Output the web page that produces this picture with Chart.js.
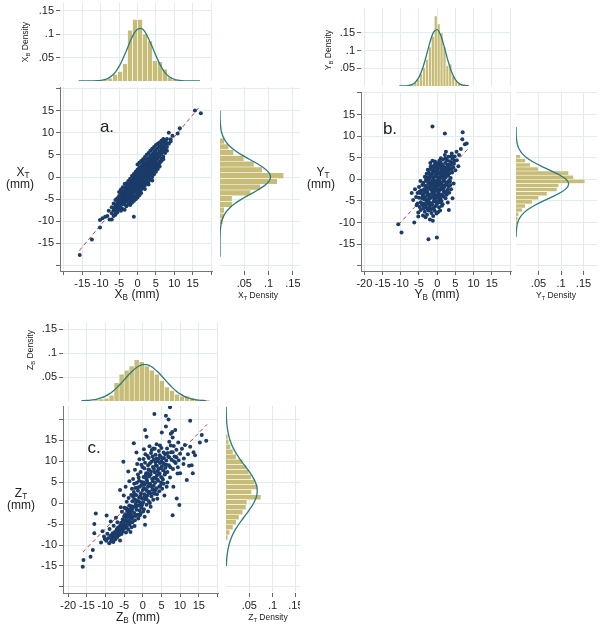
<!DOCTYPE html>
<html>
<head>
<meta charset="utf-8">
<script src="https://cdn.jsdelivr.net/npm/chart.js@4.4.1/dist/chart.umd.min.js"></script>
<style>
  html, body { margin: 0; padding: 0; background: #fff; }
  #stage { position: relative; width: 600px; height: 626px; overflow: hidden; font-family: 'Liberation Sans', Arial, sans-serif; color: #222; }
  #stage canvas { position: absolute; }
  .lbl { position: absolute; white-space: nowrap; transform: translate(-50%, -50%); line-height: 1; }
  .lbl .s { font-size: 0.68em; position: relative; top: 0.3em; }
  .lbl.rot { transform: translate(-50%, -50%) rotate(-90deg); }
</style>
</head>
<body>
<div id="stage"></div>
<script>
// ---- values ----
const mmTicks = [-20, -15, -10, -5, 0, 5, 10, 15, 20];
const densityTicks = [0.05, 0.1, 0.15];

// panel a: X_B (x) against X_T (y), rows of [x, [y, ...]]
const aRows = [
  [-7, [-8.2, -6.8, -9.6]],
  [-6.5, [-7.5, -6.0, -8.8, -7.0]],
  [-6, [-6.3, -7.8, -5.2, -6.9, -8.5]],
  [-5.5, [-5.9, -7.2, -4.8, -6.6, -8.0, -5.3]],
  [-5, [-6.8, -5.1, -4.3, -7.4, -5.8, -3.4, -6.2]],
  [-4.5, [-5.6, -4.4, -6.9, -3.6, -5.0, -7.6, -6.1, -2.8]],
  [-4, [-4.8, -3.2, -6.1, -5.5, -4.1, -2.3, -7.2, -5.0, -3.7]],
  [-3.5, [-5.0, -3.9, -2.5, -6.2, -4.5, -3.2, -7.4, -1.6, -4.0, -5.6]],
  [-3, [-3.6, -4.8, -2.2, -5.5, -3.0, -4.2, -1.4, -6.6, -3.9, -5.0, -2.7]],
  [-2.5, [-3.1, -4.4, -1.8, -5.0, -2.6, -3.7, -0.9, -6.1, -3.4, -2.1, -4.6]],
  [-2, [-2.7, -3.9, -1.3, -4.6, -2.2, -3.3, -0.4, -5.6, -2.9, -1.7, -4.1, -6.3]],
  [-1.5, [-2.4, -3.5, -1.0, -4.1, -1.7, -2.9, 0.2, -5.1, -2.1, -0.6, -3.7, -5.8]],
  [-1, [-1.8, -3.0, -0.6, -3.6, -1.2, -2.4, 0.7, -4.7, -1.5, -0.1, -3.2, -5.4, -9.0]],
  [-0.5, [-1.5, -2.6, -0.2, -3.3, -0.9, -2.0, 1.2, -4.3, -1.1, 0.4, -2.9, -5.0]],
  [0, [-1.0, -2.1, 0.2, -2.8, -0.4, -1.6, 1.7, -3.8, -0.7, 0.9, -2.4, 2.8, -4.6]],
  [0.5, [-0.6, -1.7, 0.6, -2.3, 0.0, -1.1, 2.1, -3.3, -0.2, 1.3, -1.9, 3.2, -4.1]],
  [1, [-0.2, -1.3, 1.0, -1.9, 0.4, -0.7, 2.5, -2.8, 0.2, 1.7, -1.4, 3.6, -3.6]],
  [1.5, [0.3, -0.8, 1.4, -1.4, 0.9, -0.2, 3.0, -2.4, 0.7, 2.1, -1.0, 4.0]],
  [2, [0.8, -0.3, 1.9, -0.9, 1.3, 0.2, 3.4, -1.9, 1.1, 2.6, -0.5, 4.5, -2.7]],
  [2.5, [1.2, 0.1, 2.3, -0.5, 1.7, 0.6, 3.9, -1.4, 1.6, 3.0, 0.0, 5.0]],
  [3, [1.7, 0.6, 2.8, 0.0, 2.2, 1.1, 4.3, -1.0, 2.1, 3.5, 0.4, 5.4, -1.7]],
  [3.5, [2.2, 1.0, 3.3, 0.4, 2.7, 1.6, 4.8, -0.5, 2.5, 4.0, 0.9, 5.9]],
  [4, [2.6, 1.5, 3.7, 0.9, 3.1, 2.0, 5.2, 0.0, 3.0, 4.4, 6.4, -0.8]],
  [4.5, [3.1, 2.0, 4.2, 1.4, 3.6, 2.5, 5.7, 0.6, 4.9, 6.8]],
  [5, [3.6, 2.4, 4.7, 1.9, 4.1, 3.0, 6.1, 1.2, 5.4, 7.2]],
  [5.5, [4.2, 3.0, 5.3, 2.6, 4.7, 6.5, 1.8, 7.5]],
  [6, [4.6, 3.5, 5.8, 3.1, 5.2, 6.9, 7.8, 2.4]],
  [6.5, [5.2, 4.1, 6.3, 5.7, 7.3, 3.6, 8.2]],
  [7, [5.7, 4.6, 6.8, 6.2, 7.9, 4.0, 8.6]],
  [7.5, [6.3, 5.4, 7.4, 8.3]],
  [8, [6.8, 7.7, 8.6, 5.9]],
  [8.5, [10.0, 7.5]],
  [9, [8.0, 8.5]],
  [9.5, [9.3]]
];
const aExtra = [[-15.7, -17.6], [-12.4, -14.1], [-10.2, -11.4], [-10.2, -9.7], [-9.5, -9.3], [-8.8, -9.0],
  [-8.2, -8.8], [-7.6, -9.6], [-7.8, -7.6], [10.9, 9.8], [11.5, 11.0], [15.6, 15.0], [17.2, 14.4]];
const aFit = [[-15.8, -16.6], [17.0, 16.0]];
const aTopBinMid = [-10.125, -8.775, -7.425, -6.075, -4.725, -3.375, -2.025, -0.675, 0.675, 2.025, 3.375, 4.725, 6.075, 7.425, 8.775, 10.125];
const aTopBinDensity = [0.002, 0.004, 0.006, 0.014, 0.02, 0.037, 0.108, 0.131, 0.131, 0.1, 0.085, 0.043, 0.041, 0.025, 0.0085, 0.003];
const aTopCurveX = [-16, -14, -12, -11, -10, -9, -8, -7, -6, -5, -4, -3, -2, -1, 0, 1, 2, 3, 4, 5, 6, 7, 8, 9, 10, 11, 12, 13, 14, 17];
const aTopCurveD = [0, 0, 0.0002, 0.0005, 0.0012, 0.0028, 0.0057, 0.011, 0.019, 0.031, 0.047, 0.065, 0.084, 0.101, 0.110, 0.112, 0.105, 0.090, 0.073, 0.054, 0.037, 0.023, 0.013, 0.0074, 0.0036, 0.0017, 0.0007, 0.0003, 0, 0];
const aSideBinMid = [8.1, 6.8, 5.5, 4.2, 2.9, 1.6, 0.3, -1.0, -2.3, -3.6, -4.9, -6.2, -7.5, -8.8, -10.1];
const aSideBinDensity = [0.009, 0.018, 0.028, 0.049, 0.07, 0.087, 0.131, 0.118, 0.083, 0.063, 0.025, 0.025, 0.009, 0.008, 0.006];
const aSideCurveY = [-18, -15, -13, -12, -11, -10, -9, -8, -7, -6, -5, -4, -3, -2, -1, 0, 1, 2, 3, 4, 5, 6, 7, 8, 9, 10, 11, 12, 13, 15];
const aSideCurveD = [0, 0, 0.0003, 0.0008, 0.0017, 0.0035, 0.0067, 0.0119, 0.0198, 0.0307, 0.0446, 0.0605, 0.0767, 0.0908, 0.1006, 0.104, 0.1006, 0.0908, 0.0767, 0.0605, 0.0446, 0.0307, 0.0198, 0.0119, 0.0067, 0.0035, 0.0017, 0.0008, 0.0003, 0];

// panel b: Y_B against Y_T, [x, y] pairs
const bPoints = [
  [-0.8, 3.2], [0.4, 3.5], [1.3, 3.1], [2.2, 3.8], [2.9, 3.4], [-1.6, 3.0], [0.9, 3.9], [3.6, 3.3], [1.8, 2.9], [-0.2, 3.0],
  [-1.9, 2.4], [-0.9, 2.7], [0.1, 2.2], [0.8, 2.6], [1.6, 2.3], [2.5, 2.8], [3.3, 2.5], [-1.3, 2.1], [1.2, 2.0], [2.0, 2.5], [-2.6, 2.2], [3.9, 2.3],
  [-2.3, 1.6], [-1.5, 1.2], [-0.7, 1.8], [0.2, 1.4], [0.9, 1.7], [1.7, 1.1], [2.4, 1.5], [3.1, 1.9], [-0.3, 1.0], [1.4, 1.4], [-2.9, 1.3], [2.8, 1.0], [4.1, 1.6], [-1.1, 1.5],
  [-2.7, 0.5], [-1.8, 0.8], [-1.0, 0.3], [-0.1, 0.6], [0.7, 0.2], [1.5, 0.7], [2.3, 0.4], [3.0, 0.8], [-2.2, 0.1], [-0.5, 0.9], [1.1, 0.5], [3.7, 0.3], [-3.4, 0.6], [0.3, 0.1],
  [-3.0, -0.4], [-2.1, -0.7], [-1.3, -0.2], [-0.4, -0.6], [0.5, -0.3], [1.3, -0.8], [2.0, -0.4], [2.8, -0.7], [-1.7, -0.9], [-0.8, -0.3], [0.9, -0.7], [3.5, -0.5], [-3.8, -0.8], [0.1, -0.9],
  [-3.3, -1.5], [-2.5, -1.1], [-1.6, -1.8], [-0.9, -1.3], [0.0, -1.6], [0.8, -1.1], [1.6, -1.5], [2.4, -1.2], [-2.0, -1.7], [-0.3, -1.2], [1.2, -1.9], [3.1, -1.6], [-4.1, -1.3], [0.4, -1.4],
  [-3.6, -2.3], [-2.8, -2.7], [-1.9, -2.2], [-1.1, -2.6], [-0.2, -2.1], [0.6, -2.5], [1.4, -2.2], [2.2, -2.8], [-2.4, -2.0], [-0.6, -2.8], [1.0, -2.3], [2.9, -2.4], [-4.4, -2.6], [0.2, -2.4],
  [-3.9, -3.4], [-3.1, -3.1], [-2.2, -3.6], [-1.4, -3.2], [-0.5, -3.7], [0.3, -3.3], [1.1, -3.5], [1.9, -3.1], [-2.7, -3.8], [-0.9, -3.0], [0.7, -3.8], [2.6, -3.6], [-4.7, -3.2],
  [-4.2, -4.4], [-3.4, -4.1], [-2.5, -4.6], [-1.7, -4.2], [-0.8, -4.7], [0.0, -4.3], [0.9, -4.5], [1.7, -4.0], [-3.0, -4.8], [-1.2, -4.0], [0.5, -4.9], [2.3, -4.4], [-5.0, -4.3],
  [-4.5, -5.3], [-3.6, -5.6], [-2.8, -5.1], [-1.9, -5.5], [-1.0, -5.2], [-0.1, -5.7], [0.7, -5.3], [1.5, -5.8], [-3.2, -5.9], [-2.3, -5.8], [-0.5, -5.0], [-5.4, -5.6],
  [-4.8, -6.4], [-3.9, -6.1], [-3.0, -6.6], [-2.1, -6.3], [-1.3, -6.8], [-0.4, -6.2], [0.5, -6.5], [-2.6, -6.9], [-5.6, -6.0], [1.3, -6.1],
  [-4.5, -7.1], [-3.4, -7.5], [-2.4, -7.2], [-1.6, -7.8], [-0.7, -7.3], [0.2, -7.6], [3.2, -7.1], [-5.2, -7.7],
  [-3.9, -8.4], [-2.8, -8.2], [-1.1, -8.5], [-3.2, -8.8], [-5.2, -8.6], [-1.2, -9.6], [-2.0, -9.3],
  [3.5, 4.2], [4.2, 4.8], [4.8, 5.3], [5.3, 6.4], [2.4, 6.4], [4.0, 6.0], [0.1, 3.7], [-0.6, 4.1], [1.6, 4.6], [2.7, 4.4],
  [3.9, 3.9], [4.6, 3.6], [5.4, 4.4], [3.1, 5.2], [1.0, 4.9], [-1.3, 4.3], [6.0, 5.6], [4.4, 2.8], [5.0, 2.1], [5.8, 3.0], [-1.9, 3.8], [2.1, 5.6],
  [-5.4, -3.2], [-7.0, -3.2], [-6.6, -4.8], [-5.6, -5.9], [-6.1, -2.3], [-5.0, -1.8], [-4.6, -0.4], [-5.8, -4.1], [-4.9, -2.9],
  [3.8, -2.3], [4.5, -1.0], [3.3, -3.1], [4.2, -4.4], [2.9, -5.4],
  [-0.3, 2.4], [0.6, 2.9], [1.9, 1.9], [2.6, 2.1], [-1.4, 0.6], [0.0, 1.7], [1.0, 1.2], [2.1, 0.9], [-2.5, -0.2], [-1.2, -0.5],
  [0.2, -0.2], [1.7, -0.1], [2.6, -1.0], [-2.9, -1.9], [-1.4, -1.4], [-0.6, -1.9], [0.9, -1.6], [2.0, -1.8], [-3.2, -2.8], [-1.6, -2.5],
  [-0.9, -2.0], [0.4, -2.9], [1.7, -2.6], [-2.6, -3.3], [-1.1, -3.6], [0.1, -3.9], [1.4, -3.8], [-3.6, -4.6], [-2.0, -4.4], [-0.4, -4.2],
  [1.2, -5.0], [-2.5, -5.4], [-1.4, -5.9], [0.2, -5.4], [-3.7, -6.7], [-0.9, -6.6], [-1.9, -7.0], [0.8, -7.2], [2.9, 2.9], [3.4, 1.4],
  [3.3, -0.2], [1.3, 3.4], [-0.5, 3.7], [0.6, 4.3], [2.3, 4.9], [3.9, 5.3], [4.7, 4.3], [-2.2, 1.2], [-3.1, -0.1], [-1.8, 2.9],
  [2.7, -3.2], [3.6, -1.3], [-4.3, -5.6], [-4.0, -3.8], [-3.5, -3.0], [0.7, 0.6], [-0.7, -0.9], [1.6, 1.8], [-2.4, -4.9], [-0.2, -7.9],
  [-1.3, 12.2], [2.1, 10.6], [7.0, 10.9], [6.9, 9.3], [7.6, 8.1], [8.1, 8.3], [6.5, 7.0],
  [-0.1, -13.5], [-2.4, -13.9], [-9.8, -12.3], [-10.7, -10.4], [-6.3, -10.0]
];
const bFit = [[-10.6, -10.5], [8.6, 7.2]];
const bTopBinMid = [-6.8, -6.0, -5.2, -4.4, -3.6, -2.8, -2.0, -1.2, -0.4, 0.4, 1.2, 2.0, 2.8, 3.6, 4.4, 5.2, 6.0, 6.8, 7.6, 8.4];
const bTopBinDensity = [0.006, 0.010, 0.02, 0.035, 0.052, 0.075, 0.11, 0.14, 0.198, 0.175, 0.15, 0.11, 0.058, 0.062, 0.028, 0.014, 0.01, 0.006, 0.005, 0.004];
const bTopCurveX = [-10.4, -9, -8, -7, -6, -5, -4, -3, -2, -1, 0, 1, 2, 3, 4, 5, 6, 7, 8, 8.7];
const bTopCurveD = [0, 0.0003, 0.0012, 0.0038, 0.0106, 0.025, 0.050, 0.085, 0.1232, 0.152, 0.1595, 0.1425, 0.1083, 0.070, 0.0386, 0.018, 0.0072, 0.0024, 0.0007, 0.0003];
const bSideBinMid = [5.225, 4.275, 3.325, 2.375, 1.425, 0.475, -0.475, -1.425, -2.375, -3.325, -4.275, -5.225, -6.175, -7.125, -8.075, -9.025, -9.975];
const bSideBinDensity = [0.010, 0.021, 0.032, 0.05, 0.117, 0.128, 0.153, 0.095, 0.091, 0.069, 0.05, 0.036, 0.021, 0.014, 0.006, 0.004, 0.003];
const bSideCurveY = [-13.3, -12, -11, -10, -9, -8, -7, -6, -5, -4, -3, -2, -1, 0, 1, 2, 3, 4, 5, 6, 7, 8, 9, 10, 12.1];
const bSideCurveD = [0.0002, 0.0007, 0.0017, 0.0039, 0.008, 0.0152, 0.0263, 0.0418, 0.0609, 0.0815, 0.1002, 0.113, 0.117, 0.111, 0.0968, 0.0775, 0.0569, 0.0383, 0.0237, 0.0134, 0.007, 0.0033, 0.0015, 0.0006, 0.0001];

// panel c: Z_B against Z_T, [x, y] pairs
const cPoints = [
  [-9.8, -9.0], [-9.3, -8.4], [-9.0, -9.6], [-8.7, -7.8], [-8.5, -9.1], [-8.3, -8.5], [-8.1, -7.2], [-7.9, -9.3], [-7.7, -8.0], [-7.5, -6.9],
  [-7.4, -8.7], [-7.2, -7.5], [-7.0, -6.3], [-6.9, -8.2], [-6.7, -7.1], [-6.5, -5.8], [-6.4, -7.7], [-6.2, -6.6], [-6.1, -8.9], [-6.0, -5.3],
  [-8.9, -6.2], [-9.5, -7.3], [-10.2, -8.6], [-7.8, -5.4], [-6.8, -4.6],
  [-5.9, -6.2], [-5.8, -4.7], [-5.7, -7.4], [-5.5, -5.6], [-5.4, -3.9], [-5.3, -6.8], [-5.2, -4.9], [-5.0, -3.2], [-4.9, -6.0], [-4.8, -5.3],
  [-4.7, -2.7], [-4.6, -4.3], [-4.5, -7.0], [-4.4, -3.6], [-4.3, -5.7], [-4.2, -1.9], [-4.1, -4.9], [-4.0, -3.0], [-3.9, -6.3], [-3.8, -2.3],
  [-3.7, -4.1], [-3.6, -5.2], [-3.5, -1.4], [-3.4, -3.4], [-3.3, -6.9], [-3.2, -2.7], [-3.1, -4.6], [-3.0, -0.8], [-5.6, -2.1], [-4.9, -1.1],
  [-4.3, 0.3], [-3.8, 1.2], [-5.1, 1.8], [-6.1, 3.1], [-4.6, 3.9], [-3.6, 5.2], [-5.2, 9.8], [-3.9, 7.5], [-5.9, -1.0], [-3.0, -5.8], [-2.9, -3.7],
  [-2.9, -1.9], [-2.8, 0.4], [-2.7, -3.2], [-2.6, 1.5], [-2.5, -0.9], [-2.4, 2.6], [-2.3, -2.4], [-2.2, 0.9], [-2.1, -4.1], [-2.0, 3.6],
  [-1.9, -0.2], [-1.8, 1.9], [-1.7, -1.6], [-1.6, 4.8], [-1.5, 0.5], [-1.4, -2.8], [-1.3, 2.9], [-1.2, -0.6], [-1.1, 6.1], [-1.0, 1.3],
  [-0.9, -1.8], [-0.8, 3.9], [-0.7, 0.0], [-0.6, 7.4], [-0.5, 2.3], [-0.4, -1.1], [-0.3, 5.0], [-0.2, 1.0], [-0.1, 8.6], [0.0, 3.1],
  [-2.6, 5.7], [-2.1, 7.9], [-1.5, 9.3], [-0.9, 10.4], [-2.4, 14.2], [-1.7, 12.0], [-2.9, 3.4], [-1.2, -3.7], [-0.6, -2.5], [-0.2, -0.5],
  [-2.2, -5.5], [-1.0, 5.3], [-0.4, 4.2],
  [0.1, 0.2], [0.2, 6.2], [0.3, -1.5], [0.4, 2.1], [0.5, 4.4], [0.6, 9.6], [0.7, 0.9], [0.8, 3.3], [0.9, 7.1], [1.0, -0.4],
  [1.1, 5.4], [1.2, 1.8], [1.3, 11.2], [1.4, 3.9], [1.5, 8.0], [1.6, 0.4], [1.7, 6.3], [1.8, 2.7], [1.9, 9.4], [2.0, 4.6],
  [2.1, -0.9], [2.2, 7.5], [2.3, 1.6], [2.4, 12.6], [2.5, 5.7], [2.6, 3.2], [2.7, 8.6], [2.8, 0.8], [2.9, 10.3], [3.0, 6.0],
  [0.6, 17.4], [1.0, 15.8], [0.3, 12.8], [0.2, 10.5], [1.8, 13.5], [2.6, 11.1], [0.5, -3.3], [1.4, -2.0], [0.6, -5.2], [1.2, 4.9],
  [2.0, 2.3], [0.9, 5.9], [1.7, 7.9], [2.3, 9.8], [0.4, 8.3], [2.9, 4.1], [1.5, 2.5],
  [3.1, 2.2], [3.2, 7.3], [3.3, 4.8], [3.4, 11.5], [3.5, 9.0], [3.6, 3.5], [3.7, 14.0], [3.8, 6.6], [3.9, 1.0], [4.0, 10.0],
  [4.1, 5.3], [4.2, 8.1], [4.3, 12.4], [4.4, 2.8], [4.5, 7.0], [4.6, 9.5], [4.7, 4.1], [4.8, 11.0], [4.9, 6.2], [5.0, 13.1],
  [5.1, 8.7], [5.2, 3.4], [5.3, 10.6], [5.4, 5.6], [5.5, 7.8], [5.6, 12.0], [5.7, 9.3], [5.8, 1.8], [5.9, 6.8], [6.0, 11.6],
  [3.1, 21.2], [5.1, 16.8], [3.5, 5.9], [4.4, 3.9], [4.0, 7.6], [5.0, 9.9], [4.6, 13.7], [3.2, 12.9], [5.6, 4.6], [3.8, 8.8],
  [6.1, 8.4], [6.2, 20.8], [6.2, 18.2], [6.3, 10.1], [6.4, 3.9], [6.5, 13.0], [6.6, 7.4], [6.8, 11.0], [7.0, 9.0], [7.1, 14.6],
  [7.3, 22.8], [7.3, 6.1], [7.5, 16.5], [7.6, 12.1], [7.7, 10.3], [7.9, 16.9], [8.0, -2.9], [8.1, 8.1], [8.2, 3.9], [8.3, 13.6],
  [8.5, 11.1], [8.7, 17.4], [8.8, 9.5], [9.0, 12.7], [9.1, 1.1], [9.3, 7.0], [9.5, 14.4], [9.8, -0.5], [10.0, 7.1], [10.0, 11.7],
  [6.9, 19.9], [8.0, 15.6], [6.6, 4.9], [7.4, 8.5], [9.6, 10.2],
  [-2.7, -1.2], [-2.2, 2.0], [-1.8, -0.9], [-1.4, 3.7], [-1.1, 0.4], [-0.6, 1.6], [-0.3, -0.4], [0.2, 4.9], [0.5, 1.4], [0.8, 6.6],
  [1.1, 2.9], [1.4, 9.0], [1.7, 4.3], [2.1, 6.8], [2.4, 3.9], [2.7, 5.2], [3.0, 8.1], [3.3, 3.0], [3.6, 10.6], [3.9, 5.6],
  [4.2, 6.9], [4.5, 11.4], [4.8, 8.3], [5.1, 6.1], [5.4, 9.6], [5.7, 10.7], [6.0, 7.2], [6.3, 9.1], [6.7, 11.9], [7.1, 10.9],
  [7.5, 13.7], [8.0, 12.1], [8.4, 9.9], [9.0, 10.9], [9.4, 8.5], [-3.4, -2.0], [-3.8, -4.7], [-4.2, -3.3], [-4.6, -5.6], [-5.0, -4.2],
  [-5.4, -6.1], [-5.8, -5.5], [-6.3, -7.2], [-6.8, -6.0], [-7.3, -7.9], [-8.0, -8.0], [-3.1, 1.9], [-2.3, 4.6], [-1.3, 6.8], [-0.4, 9.1],
  [0.7, 11.6], [1.6, 10.7], [2.8, 13.0], [-0.8, -2.9], [0.1, -2.0], [1.0, 1.0], [1.9, 0.0], [2.9, 2.4], [3.8, 2.1], [4.9, 4.9],
  [-1.9, -3.1], [-2.8, -4.6], [-3.6, -0.6], [-4.4, -1.3], [-2.0, 0.7], [0.3, 3.6], [1.3, 7.1], [2.2, 11.9], [3.4, 9.7], [4.3, 10.6],
  [10.5, 12.9], [10.9, 9.3], [11.3, 13.8], [11.8, 5.5], [12.1, 11.6], [12.4, 8.9], [12.7, 13.4], [12.7, 19.6], [13.1, 9.0], [13.4, 7.1],
  [13.6, 12.1], [14.0, 11.4], [15.3, 14.4], [15.8, 16.2], [17.0, 14.8], [11.0, 10.6],
  [-16.1, -15.2], [-15.9, -13.6], [-14.0, -12.8], [-13.4, -11.2], [-13.0, -5.0], [-12.6, -2.5], [-13.0, -7.2], [-10.8, -6.7],
  [-9.7, -3.0], [-10.4, -8.0], [-11.2, -9.4], [-8.6, -4.4], [-7.2, -3.5]
];
const cFit = [[-16.1, -11.7], [17.2, 18.7]];
const cTopBinMid = [-12.425, -11.075, -9.725, -8.375, -7.025, -5.675, -4.325, -2.975, -1.625, -0.275, 1.075, 2.425, 3.775, 5.125, 6.475, 7.825, 9.175, 10.525, 11.875, 13.225, 14.575, 15.925, 17.275];
const cTopBinDensity = [0.002, 0.004, 0.006, 0.012, 0.038, 0.056, 0.064, 0.073, 0.086, 0.082, 0.073, 0.064, 0.056, 0.043, 0.029, 0.022, 0.014, 0.010, 0.010, 0.007, 0.003, 0.003, 0.002];
const cTopCurveX = [-16.5, -15, -14, -13, -12, -11, -10, -9, -8, -7, -6, -5, -4, -3, -2, -1, 0, 1, 2, 3, 4, 5, 6, 7, 8, 9, 10, 11, 12, 13, 14, 15, 16, 17];
const cTopCurveD = [0.0004, 0.001, 0.0017, 0.0028, 0.0045, 0.0069, 0.0103, 0.0148, 0.0205, 0.0274, 0.0353, 0.0439, 0.0526, 0.0608, 0.0679, 0.073, 0.0757, 0.0757, 0.073, 0.0679, 0.0608, 0.0526, 0.0439, 0.0353, 0.0274, 0.0205, 0.0148, 0.0103, 0.0069, 0.0045, 0.0028, 0.0017, 0.001, 0.0006];
const cSideBinMid = [15.8, 14.6, 13.4, 12.2, 11.0, 9.8, 8.6, 7.4, 6.2, 5.0, 3.8, 2.6, 1.4, 0.2, -1.0, -2.2, -3.4, -4.6, -5.8, -7.0, -8.2];
const cSideBinDensity = [0.004, 0.006, 0.010, 0.015, 0.022, 0.036, 0.044, 0.049, 0.054, 0.062, 0.068, 0.055, 0.075, 0.045, 0.043, 0.036, 0.028, 0.022, 0.015, 0.008, 0.004];
const cSideCurveY = [-15, -14, -13, -12, -11, -10, -9, -8, -7, -6, -5, -4, -3, -2, -1, 0, 1, 2, 3, 4, 5, 6, 7, 8, 9, 10, 11, 12, 13, 14, 15, 16, 17, 18, 19, 20, 21, 22.9];
const cSideCurveD = [0.0007, 0.0012, 0.0019, 0.0029, 0.0044, 0.0064, 0.0091, 0.0125, 0.0168, 0.0219, 0.0278, 0.0342, 0.041, 0.0478, 0.0541, 0.0595, 0.0637, 0.0662, 0.067, 0.0659, 0.063, 0.0585, 0.0529, 0.0464, 0.0396, 0.0329, 0.0266, 0.0208, 0.0159, 0.0118, 0.0085, 0.006, 0.0041, 0.0027, 0.0017, 0.0011, 0.0007, 0.0002];

// ---- styling ----
const GRID = '#e2ecee', TICK = '#666', AXIS = '#777', TEXT = '#222';
const DOT = '#1b3b69', BAR = '#c8bd78', CURVE = '#2c7c7b', FIT = '#b3424c';
const FONT = "'Liberation Sans', Arial, sans-serif";
const stage = document.getElementById('stage');

const mmLabel = v => (v === 20 || v === -20) ? '' : String(v);
const mmLabelWide = v => v === 20 ? '' : String(v);
const densLabel = v => String(v).replace(/^0\./, '.');

// place a canvas so that its chart area lands on the given rectangle
function canvasAt(p) {
  const c = document.createElement('canvas');
  c.width = p.R - p.L + p.l + p.r;
  c.height = p.B - p.T + p.t + p.b;
  c.style.left = (p.L - p.l) + 'px';
  c.style.top = (p.T - p.t) + 'px';
  stage.appendChild(c);
  return c;
}

function fixedAxis(o) {
  return {
    type: 'linear', min: o.min, max: o.max, offset: false,
    afterBuildTicks: s => { s.ticks = o.ticks.map(v => ({ value: v })); },
    afterFit: s => {
      if (o.vertical) s.width = o.size; else s.height = o.size;
      s.paddingLeft = s.paddingRight = s.paddingTop = s.paddingBottom = 0;
    },
    grid: { offset: false, color: GRID, lineWidth: 1, drawTicks: !!o.marks, tickLength: 4, tickColor: TICK },
    border: { display: !!o.line, color: AXIS, width: 1 },
    ticks: {
      display: !!o.label, autoSkip: false, maxRotation: 0, padding: 2, color: TEXT,
      font: { family: FONT, size: 11 }, callback: o.label || (() => '')
    }
  };
}

function baseOptions(p, scales, indexAxis) {
  return {
    responsive: false, animation: false, events: [],
    indexAxis: indexAxis || 'x',
    layout: { padding: { left: 0, top: p.t, right: p.r, bottom: 0 } },
    plugins: { legend: { display: false }, tooltip: { enabled: false } },
    scales
  };
}

function scatterPanel(p, pairs, fit, xr, yr, xLabel) {
  new Chart(canvasAt(p), {
    type: 'scatter',
    data: {
      datasets: [
        { data: pairs.map(([x, y]) => ({ x, y })), backgroundColor: DOT, borderWidth: 0, pointRadius: 2, order: 0 },
        { data: fit.map(([x, y]) => ({ x, y })), showLine: true, borderColor: FIT, borderWidth: 1,
          borderDash: [4, 3], pointRadius: 0, order: 1 }
      ]
    },
    options: baseOptions(p, {
      x: fixedAxis({ min: xr[0], max: xr[1], ticks: mmTicks, size: p.b, marks: true, line: true, label: xLabel }),
      y: fixedAxis({ vertical: true, min: yr[0], max: yr[1], ticks: mmTicks, size: p.l, marks: true, line: true, label: mmLabel })
    })
  });
}

function topHist(p, xr, yMax, mids, dens, cx, cd) {
  new Chart(canvasAt(p), {
    type: 'bar',
    data: {
      datasets: [
        { type: 'line', data: cx.map((x, i) => ({ x, y: cd[i] })), borderColor: CURVE, borderWidth: 1.3,
          pointRadius: 0, cubicInterpolationMode: 'monotone', order: 0 },
        { type: 'bar', data: mids.map((x, i) => ({ x, y: dens[i] })), backgroundColor: BAR,
          borderColor: '#fff', borderWidth: 0.6, barPercentage: 1, categoryPercentage: 1, order: 1 }
      ]
    },
    options: baseOptions(p, {
      x: fixedAxis({ min: xr[0], max: xr[1], ticks: mmTicks, size: p.b }),
      y: fixedAxis({ vertical: true, min: 0, max: yMax, ticks: densityTicks, size: p.l, marks: true, label: densLabel })
    })
  });
}

function sideHist(p, yr, xMax, mids, dens, cy, cd) {
  new Chart(canvasAt(p), {
    type: 'bar',
    data: {
      datasets: [
        { type: 'line', indexAxis: 'y', data: cy.map((y, i) => ({ x: cd[i], y })), borderColor: CURVE,
          borderWidth: 1.3, pointRadius: 0, cubicInterpolationMode: 'monotone', order: 0 },
        { type: 'bar', data: mids.map((y, i) => ({ x: dens[i], y })), backgroundColor: BAR,
          borderColor: '#fff', borderWidth: 0.6, barPercentage: 1, categoryPercentage: 1, order: 1 }
      ]
    },
    options: baseOptions(p, {
      x: fixedAxis({ min: 0, max: xMax, ticks: densityTicks, size: p.b, marks: true, label: densLabel }),
      y: fixedAxis({ vertical: true, min: yr[0], max: yr[1], ticks: mmTicks, size: p.l })
    }, 'y')
  });
}

// panel a
const aPoints = [];
aRows.forEach(([x, ys]) => ys.forEach(y => aPoints.push([x, y])));
aExtra.forEach(pt => aPoints.push(pt));

topHist({ L: 60, T: 3, R: 212, B: 81, l: 60, t: 3, r: 4, b: 3 }, [-21.06, 20.24], 0.166,
  aTopBinMid, aTopBinDensity, aTopCurveX, aTopCurveD);
scatterPanel({ L: 60, T: 87, R: 212, B: 271, l: 60, t: 10, r: 4, b: 22 }, aPoints, aFit,
  [-21.06, 20.24], [-21.22, 20.32], mmLabel);
sideHist({ L: 220, T: 87, R: 300, B: 271, l: 4, t: 10, r: 0, b: 22 }, [-21.22, 20.32], 0.1646,
  aSideBinMid, aSideBinDensity, aSideCurveY, aSideCurveD);

// panel b
topHist({ L: 361, T: 8, R: 511, B: 86, l: 61, t: 3, r: 4, b: 3 }, [-20.93, 20.27], 0.2203,
  bTopBinMid, bTopBinDensity, bTopCurveX, bTopCurveD);
scatterPanel({ L: 361, T: 92, R: 511, B: 271, l: 61, t: 10, r: 4, b: 22 }, bPoints, bFit,
  [-20.93, 20.27], [-21.23, 20.21], mmLabelWide);
sideHist({ L: 516, T: 92, R: 597, B: 271, l: 4, t: 10, r: 3, b: 22 }, [-21.23, 20.21], 0.18,
  bSideBinMid, bSideBinDensity, bSideCurveY, bSideCurveD);

// panel c
topHist({ L: 63, T: 322, R: 218, B: 401, l: 63, t: 3, r: 4, b: 3 }, [-21.39, 20.16], 0.1646,
  cTopBinMid, cTopBinDensity, cTopCurveX, cTopCurveD);
scatterPanel({ L: 63, T: 406, R: 218, B: 593, l: 63, t: 10, r: 4, b: 22 }, cPoints, cFit,
  [-21.39, 20.16], [-21.43, 23.1], mmLabelWide);
sideHist({ L: 226, T: 406, R: 300, B: 593, l: 4, t: 10, r: 0, b: 22 }, [-21.43, 23.1], 0.1588,
  cSideBinMid, cSideBinDensity, cSideCurveY, cSideCurveD);

// titles with subscripts, as html text
const texts = [
  ['X<span class="s">T</span>', 23, 172, 12], ['(mm)', 20, 184, 12],
  ['X<span class="s">B</span> (mm)', 137, 294, 12],
  ['X<span class="s">B</span> Density', 25, 42, 8.5, true],
  ['X<span class="s">T</span> Density', 258, 295, 8.5],
  ['a.', 107, 126, 17],
  ['Y<span class="s">T</span>', 323, 172, 12], ['(mm)', 321, 184, 12],
  ['Y<span class="s">B</span> (mm)', 437, 294, 12],
  ['Y<span class="s">B</span> Density', 328, 50, 8.5, true],
  ['Y<span class="s">T</span> Density', 556, 295, 8.5],
  ['b.', 390, 128, 17],
  ['Z<span class="s">T</span>', 21, 493, 12], ['(mm)', 21, 505, 12],
  ['Z<span class="s">B</span> (mm)', 138, 617, 12],
  ['Z<span class="s">B</span> Density', 30, 350, 8.5, true],
  ['Z<span class="s">T</span> Density', 268, 617, 8.5],
  ['c.', 94, 447, 17]
];
texts.forEach(([html, x, y, size, rot]) => {
  const d = document.createElement('div');
  d.className = 'lbl' + (rot ? ' rot' : '');
  d.innerHTML = html;
  d.style.left = x + 'px';
  d.style.top = y + 'px';
  d.style.fontSize = size + 'px';
  stage.appendChild(d);
});
</script>
</body>
</html>
